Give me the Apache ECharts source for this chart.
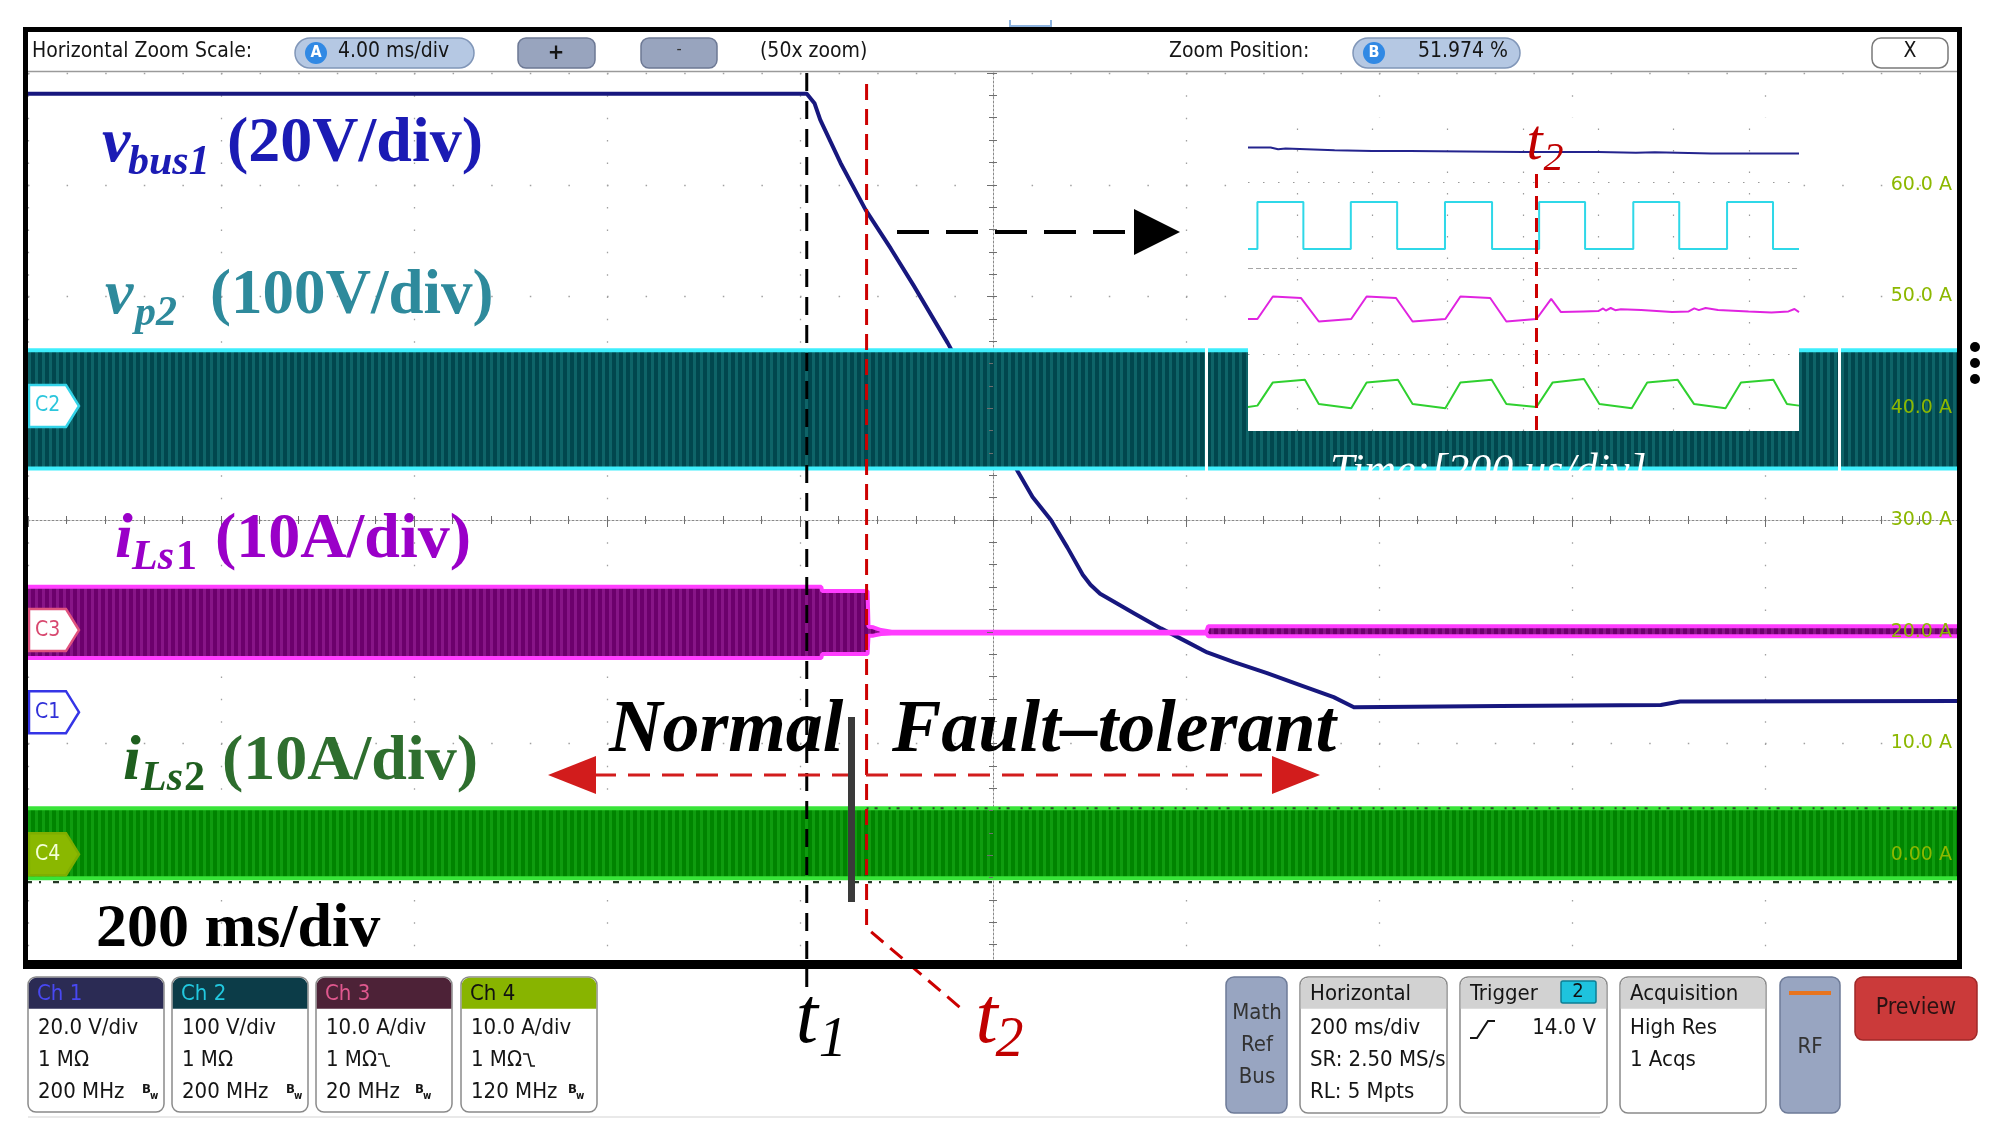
<!DOCTYPE html>
<html><head><meta charset="utf-8">
<script src="https://cdn.jsdelivr.net/npm/echarts@6/dist/echarts.min.js"></script>
<style>html,body{margin:0;padding:0;background:#fff;overflow:hidden}#c{width:1998px;height:1139px}</style>
</head><body><div id="c"></div>
<script>
// ================= DATA =================
// Main acquisition: time in ms (200 ms/div, 10 div), values in channel units
const C1_TIME_MS = [-1000, -193, -185, -179, -158, -132, -106, -82, -47, 26, 41, 60, 77, 93, 101, 111, 129, 146, 174, 202, 222, 249, 284, 319, 353, 374, 526, 692, 712, 1000];
const C1_VBUS1_V = [110.7, 110.7, 109.0, 106.0, 98.3, 89.9, 83.0, 76.3, 66.1, 43.0, 38.5, 34.4, 29.5, 24.6, 22.8, 21.2, 19.4, 17.7, 15.0, 12.5, 10.7, 9.0, 7.0, 4.8, 2.7, 0.9, 1.1, 1.3, 1.9, 2.0];

const C2_TIME_MS = [-1000, 1000];
const C2_VP2_UPPER_V = [50, 50];
const C2_VP2_LOWER_V = [-56, -56];

const C3_TIME_MS = [-1000, -178, -177, -130, -129, -124, -116, -105, 221, 223, 1000];
const C3_ILS1_UPPER_A = [3.87, 3.87, 3.49, 3.49, 0.30, 0.25, 0.00, -0.15, -0.15, 0.35, 0.35];
const C3_ILS1_LOWER_A = [-2.51, -2.51, -2.15, -2.15, -0.50, -0.50, -0.35, -0.30, -0.30, -0.55, -0.55];

const C4_TIME_MS = [-1000, 1000];
const C4_ILS2_UPPER_A = [4.1, 4.1];
const C4_ILS2_LOWER_A = [-2.15, -2.15];

const T1_MS = -193;   // fault instant
const T2_MS = -131;   // fault-tolerant reconfiguration

const C4_SCALE_TICKS = [-3, -2, -1, 0, 1, 2, 3];   // divisions carrying "x A" labels

// Inset (zoomed view, 200 us/div): time in us, values in inset divisions
const INSET_NAVY_T_US = [70, 130, 150, 170, 300, 400, 500, 800, 1000, 1100, 1150, 1300, 1533];
const INSET_NAVY_DIV = [1.40, 1.40, 1.38, 1.39, 1.37, 1.36, 1.36, 1.35, 1.35, 1.34, 1.345, 1.33, 1.33];

const INSET_CYAN_EDGE_T_US = [70, 95, 217, 343, 466, 593, 718, 843, 965, 1093, 1215, 1342, 1464, 1533];
const INSET_CYAN_LEVEL_DIV = [0.221, 0.767, 0.221, 0.767, 0.221, 0.767, 0.221, 0.767, 0.221, 0.767, 0.221, 0.767, 0.221, 0.221];

const INSET_MAG_T_US = [70, 95, 136, 211, 258, 344, 385, 463, 507, 594, 634, 713, 756, 836, 875, 901, 960, 1000, 1013, 1020, 1033, 1045, 1060, 1114, 1196, 1240, 1255, 1267, 1285, 1318, 1399, 1460, 1505, 1521, 1533];
const INSET_MAG_DIV = [-0.593, -0.593, -0.331, -0.349, -0.622, -0.593, -0.331, -0.349, -0.622, -0.593, -0.331, -0.349, -0.622, -0.593, -0.358, -0.512, -0.505, -0.500, -0.470, -0.495, -0.465, -0.490, -0.480, -0.488, -0.512, -0.505, -0.470, -0.490, -0.465, -0.488, -0.506, -0.517, -0.505, -0.477, -0.512];

const INSET_GRN_T_US = [70, 95, 136, 221, 258, 344, 385, 468, 507, 594, 634, 717, 756, 836, 879, 962, 1003, 1089, 1130, 1211, 1254, 1338, 1379, 1465, 1501, 1533];
const INSET_GRN_DIV = [-1.616, -1.60, -1.33, -1.30, -1.58, -1.63, -1.33, -1.30, -1.58, -1.63, -1.33, -1.30, -1.58, -1.616, -1.33, -1.29, -1.58, -1.63, -1.33, -1.30, -1.58, -1.63, -1.33, -1.30, -1.58, -1.60];

const INSET_T2_US = 836;
const INSET_GRID_T_US = [200, 400, 600, 800, 1000, 1200, 1400];
const INSET_GRID_ROWS_DIV = [1, -1];

// ================= channel vertical setup (scope position/scale) =================
const CH = {
  C1: {pos: -1.72, scale: 20},
  C2: {pos: 1.02, scale: 100},
  C3: {pos: -0.985, scale: 10},
  C4: {pos: -2.99, scale: 10}
};

const UI = '"DejaVu Sans Condensed","Liberation Sans Narrow","Roboto Condensed","Noto Sans",sans-serif';
const SERIF = '"Liberation Serif","DejaVu Serif",serif';

function stripes(bg, fg, period, w) {
  const c = document.createElement('canvas');
  c.width = period; c.height = 4;
  const g = c.getContext('2d');
  g.fillStyle = bg; g.fillRect(0, 0, period, 4);
  g.fillStyle = fg; g.fillRect(0, 0, w, 4);
  return {image: c, repeat: 'repeat'};
}

function toDiv(ch, v) { return ch.pos + v / ch.scale; }

// envelope band: filled polygon (custom series) + the two edge traces
function bandSeries(name, times, upper, lower, ch, edge, pattern, z) {
  const up = times.map((t, i) => [t, toDiv(ch, upper[i])]);
  const lo = times.map((t, i) => [t, toDiv(ch, lower[i])]);
  return [
    {type: 'custom', name: name + '_fill', xAxisIndex: 0, yAxisIndex: 0, z: z, silent: true, animation: false,
     data: times.map((t, i) => [t, up[i][1], lo[i][1]]),
     encode: {x: 0, y: [1, 2]},
     renderItem: function (params, api) {
       if (params.dataIndex !== 0) return null;
       const pts = up.map(p => api.coord(p)).concat(lo.slice().reverse().map(p => api.coord(p)));
       return {type: 'polygon', shape: {points: pts}, style: {fill: pattern, stroke: null}};
     }},
    {type: 'line', name: name + '_hi', xAxisIndex: 0, yAxisIndex: 0, z: z, symbol: 'none', silent: true, animation: false,
     data: up, lineStyle: {color: edge, width: 4}},
    {type: 'line', name: name + '_lo', xAxisIndex: 0, yAxisIndex: 0, z: z, symbol: 'none', silent: true, animation: false,
     data: lo, lineStyle: {color: edge, width: 4}}
  ];
}

const chart = echarts.init(document.getElementById('c'), null, {renderer: 'canvas', width: 1998, height: 1139});

const tickStyle = {color: '#6e6e6e', width: 1};
const option = {
  animation: false,
  backgroundColor: '#ffffff',
  grid: [
    {left: 28, top: 73, width: 1930, height: 894, show: false},
    {left: 28, top: 73, width: 1930, height: 894, show: false},
    {left: 1248, top: 118, width: 551, height: 313, show: false}
  ],
  xAxis: [
    {type: 'value', gridIndex: 0, min: -1000, max: 1000, interval: 200, position: 'bottom',
     axisLine: {show: false}, axisTick: {show: false}, axisLabel: {show: false},
     splitLine: {show: true, lineStyle: {color: '#a0a0a0', width: 1.3, type: [1.5, 20.85]}}},
    {type: 'value', gridIndex: 0, min: -1000, max: 1000, interval: 200, position: 'top',
     axisLine: {show: false}, axisLabel: {show: false}, splitLine: {show: false},
     axisTick: {show: true, inside: true, length: 7, lineStyle: tickStyle},
     minorTick: {show: true, splitNumber: 5, length: 4, lineStyle: tickStyle}},
    {type: 'value', gridIndex: 1, min: -1000, max: 1000, interval: 200, position: 'bottom',
     axisLine: {show: true, onZero: true, lineStyle: {color: '#8a8a8a', width: 1, type: [2, 2]}},
     axisLabel: {show: false}, splitLine: {show: false},
     axisTick: {show: true, inside: true, length: 4, lineStyle: tickStyle},
     minorTick: {show: true, splitNumber: 5, length: 4, lineStyle: tickStyle}},
    {type: 'value', gridIndex: 1, min: -1000, max: 1000, interval: 200, position: 'top',
     axisLine: {show: false, onZero: true}, axisLabel: {show: false}, splitLine: {show: false},
     axisTick: {show: true, inside: true, length: 4, lineStyle: tickStyle},
     minorTick: {show: true, splitNumber: 5, length: 4, lineStyle: tickStyle}},
    {type: 'value', gridIndex: 2, min: 70, max: 1533, show: false}
  ],
  yAxis: [
    {type: 'value', gridIndex: 0, min: -4, max: 4, interval: 1, position: 'left',
     axisLine: {show: false}, axisTick: {show: false}, axisLabel: {show: false},
     splitLine: {show: true, lineStyle: {color: '#a0a0a0', width: 1.3, type: [1.5, 37.1]}}},
    {type: 'value', gridIndex: 0, min: -4, max: 4, interval: 1, position: 'right', z: 20,
     axisLine: {show: false}, splitLine: {show: false},
     axisTick: {show: true, inside: true, length: 6, lineStyle: tickStyle},
     minorTick: {show: true, splitNumber: 5, length: 4, lineStyle: tickStyle},
     axisLabel: {show: true, inside: true, margin: 6, color: '#8cb800', fontSize: 19,
       fontFamily: '"DejaVu Sans","Noto Sans",sans-serif',
       formatter: function (v) {
         if (C4_SCALE_TICKS.indexOf(v) < 0) return '';
         const a = (v - CH.C4.pos) * CH.C4.scale;
         const r = Math.round(a);
         return (r === 0 ? '0.00' : r.toFixed(1)) + ' A';
       }}},
    {type: 'value', gridIndex: 1, min: -4, max: 4, interval: 1, position: 'left',
     axisLine: {show: true, onZero: true, lineStyle: {color: '#8a8a8a', width: 1, type: [2, 2]}},
     axisLabel: {show: false}, splitLine: {show: false},
     axisTick: {show: true, inside: true, length: 4, lineStyle: tickStyle},
     minorTick: {show: true, splitNumber: 5, length: 4, lineStyle: tickStyle}},
    {type: 'value', gridIndex: 1, min: -4, max: 4, interval: 1, position: 'right',
     axisLine: {show: false, onZero: true}, axisLabel: {show: false}, splitLine: {show: false},
     axisTick: {show: true, inside: true, length: 4, lineStyle: tickStyle},
     minorTick: {show: true, splitNumber: 5, length: 4, lineStyle: tickStyle}},
    {type: 'value', gridIndex: 2, min: -1.895, max: 1.744, show: false}
  ],
  series: []
};

// C1 (behind everything)
option.series.push({
  name: 'vbus1', type: 'line', xAxisIndex: 0, yAxisIndex: 0, symbol: 'none', silent: true, z: 2,
  data: C1_TIME_MS.map((t, i) => [t, toDiv(CH.C1, C1_VBUS1_V[i])]),
  lineStyle: {color: '#17177e', width: 4, join: 'round', cap: 'round'}
});
option.series.push(...bandSeries('vp2', C2_TIME_MS, C2_VP2_UPPER_V, C2_VP2_LOWER_V, CH.C2, '#3eeefc', stripes('#01474e', '#0e6468', 7, 3), 3));
option.series.push(...bandSeries('iLs1', C3_TIME_MS, C3_ILS1_UPPER_A, C3_ILS1_LOWER_A, CH.C3, '#ff3dff', stripes('#6c006c', '#871587', 7, 3), 4));
option.series.push(...bandSeries('iLs2', C4_TIME_MS, C4_ILS2_UPPER_A, C4_ILS2_LOWER_A, CH.C4, '#38e438', stripes('#008400', '#0f9c0f', 7, 3), 5));
// acquisition noise specks along iLs2 edges
option.series.push({
  name: 'iLs2_specks', type: 'line', xAxisIndex: 0, yAxisIndex: 0, symbol: 'none', silent: true, z: 6,
  data: C4_TIME_MS.map((t, i) => [t, toDiv(CH.C4, C4_ILS2_LOWER_A[i]) - 0.035]),
  lineStyle: {color: '#263826', width: 2.2, type: [4, 7, 2, 12, 6, 9]}
});
option.series.push({
  name: 'iLs2_specks_top', type: 'line', xAxisIndex: 0, yAxisIndex: 0, symbol: 'none', silent: true, z: 6,
  data: [[T2_MS, toDiv(CH.C4, C4_ILS2_UPPER_A[0])], [C4_TIME_MS[1], toDiv(CH.C4, C4_ILS2_UPPER_A[1])]],
  lineStyle: {color: '#2c4a2c', width: 2, type: [2, 6, 3, 11]}
});

// Inset traces
option.series.push({
  name: 'inset_vbus1', type: 'line', xAxisIndex: 4, yAxisIndex: 4, symbol: 'none', silent: true, z: 11,
  data: INSET_NAVY_T_US.map((t, i) => [t, INSET_NAVY_DIV[i]]),
  lineStyle: {color: '#24248e', width: 2},
  markLine: {silent: true, symbol: 'none', label: {show: false}, z: 10,
    data: INSET_GRID_T_US.map(t => ({xAxis: t, lineStyle: {color: '#9a9a9a', width: 1.2, type: [1.5, 20]}}))
      .concat(INSET_GRID_ROWS_DIV.map(d => ({yAxis: d, lineStyle: {color: '#9a9a9a', width: 1.2, type: [1.5, 13.5]}})))
      .concat([{yAxis: 0, lineStyle: {color: '#a6a6a6', width: 1.2, type: [5, 3]}}])}
});
option.series.push({
  name: 'inset_vp2', type: 'line', step: 'end', xAxisIndex: 4, yAxisIndex: 4, symbol: 'none', silent: true, z: 11,
  data: INSET_CYAN_EDGE_T_US.map((t, i) => [t, INSET_CYAN_LEVEL_DIV[i]]),
  lineStyle: {color: '#2fd8e8', width: 2}
});
option.series.push({
  name: 'inset_iLs1', type: 'line', xAxisIndex: 4, yAxisIndex: 4, symbol: 'none', silent: true, z: 11,
  data: INSET_MAG_T_US.map((t, i) => [t, INSET_MAG_DIV[i]]),
  lineStyle: {color: '#e024e0', width: 2}
});
option.series.push({
  name: 'inset_iLs2', type: 'line', xAxisIndex: 4, yAxisIndex: 4, symbol: 'none', silent: true, z: 11,
  data: INSET_GRN_T_US.map((t, i) => [t, INSET_GRN_DIV[i]]),
  lineStyle: {color: '#2fd02f', width: 2}
});

chart.setOption(option);

// ================= overlays =================
const px = t => chart.convertToPixel({xAxisIndex: 0}, t);
const py = d => chart.convertToPixel({yAxisIndex: 0}, d);
const ipx = t => chart.convertToPixel({xAxisIndex: 4}, t);
const ipy = d => chart.convertToPixel({yAxisIndex: 4}, d);

const G = [];
function rect(x, y, w, h, fill, stroke, r, z, lw) {
  G.push({type: 'rect', z: z, silent: true, shape: {x, y, width: w, height: h, r: r || 0},
    style: {fill: fill, stroke: stroke || null, lineWidth: lw || (stroke ? 1.5 : 0)}});
}
function pline(points, color, width, dash, z) {
  G.push({type: 'polyline', z: z, silent: true, shape: {points},
    style: {stroke: color, lineWidth: width, lineDash: dash || null, fill: null}});
}
function poly(points, fill, z, stroke, lw) {
  G.push({type: 'polygon', z: z, silent: true, shape: {points}, style: {fill, stroke: stroke || null, lineWidth: lw || 0}});
}
function circ(cx, cy, r, fill, z) {
  G.push({type: 'circle', z: z, silent: true, shape: {cx, cy, r}, style: {fill}});
}
function txt(x, y, s, font, color, align, z) {
  G.push({type: 'text', z: z || 40, silent: true, x: x, y: y,
    style: {text: s, font: font, fill: color, textAlign: align || 'left', align: align || 'left',
      textVerticalAlign: 'middle', verticalAlign: 'middle'}});
}
function tb(x, base, s, size, style, color, fam, z) {
  txt(x, base - 0.34 * size, s, style + ' ' + size + 'px ' + (fam || SERIF), color, 'left', z || 25);
}
function ui(x, yc, s, size, color, align, weight, z) {
  txt(x, yc, s, (weight || 'normal') + ' ' + size + 'px ' + UI, color || '#151515', align, z || 40);
}

// inset background
const ix0 = ipx(70), ix1 = ipx(1533), iy0 = ipy(1.744), iy1 = ipy(-1.895);
rect(ix0, iy0, ix1 - ix0, iy1 - iy0, '#ffffff', null, 0, 8);
// gaps in the vp2 band beside the inset
const c2top = py(toDiv(CH.C2, C2_VP2_UPPER_V[0])) - 3, c2bot = py(toDiv(CH.C2, C2_VP2_LOWER_V[0])) + 3;
rect(1205, c2top, 3, c2bot - c2top, '#ffffff', null, 0, 7);
rect(1838, c2top, 3, c2bot - c2top, '#ffffff', null, 0, 7);
// inset t2
const it2 = ipx(INSET_T2_US);
pline([[it2, 174], [it2, iy1]], '#cc0000', 3, [14, 8], 20);
tb(it2 - 10, 163, 't', 58, 'italic', '#c00000');
tb(it2 + 7, 173, '2', 40, 'italic', '#c00000');
tb(1330, 487, 'Time:[200 us/div]', 44, 'italic', '#ffffff', SERIF, 21);

// t1 / t2 markers
const x1 = px(T1_MS), x2 = px(T2_MS);
pline([[x1, 73], [x1, 992]], '#000000', 3, [18, 10], 22);
pline([[x2, 84], [x2, 928], [x2 + 94, 1008]], '#cc0000', 3, [16, 9], 22);
tb(x1 - 11, 1048, 't', 80, 'italic', '#000000', SERIF, 45);
tb(x1 + 12, 1060, '1', 56, 'italic', '#000000', SERIF, 45);
tb(x2 + 109, 1048, 't', 80, 'italic', '#c00000', SERIF, 45);
tb(x2 + 129, 1060, '2', 56, 'italic', '#c00000', SERIF, 45);

// black dashed arrow to inset
pline([[897, 232], [1140, 232]], '#000000', 4, [32, 17], 22);
poly([[1134, 209], [1180, 232], [1134, 255]], '#000000', 22);

// red double arrow
pline([[594, 775], [1274, 775]], '#d21c1c', 3, [22, 12], 22);
poly([[548, 775], [596, 756], [596, 794]], '#d21c1c', 22);
poly([[1320, 775], [1272, 756], [1272, 794]], '#d21c1c', 22);
rect(848, 717, 7, 185, '#3a3a3a', null, 0, 22);

// signal labels
tb(102, 166, 'v', 64, 'italic bold', '#1b1bb4');
tb(128, 177, 'bus1', 42, 'italic bold', '#1b1bb4');
tb(227, 166, '(20V/div)', 64, 'bold', '#1b1bb4');
tb(105, 318, 'v', 64, 'italic bold', '#2e8a9c');
tb(135, 328, 'p2', 42, 'italic bold', '#2e8a9c');
tb(210, 318, '(100V/div)', 63, 'bold', '#2e8a9c');
tb(115, 562, 'i', 64, 'italic bold', '#9a00c8');
tb(132, 572, 'Ls', 42, 'italic bold', '#9a00c8');
tb(176, 572, '1', 42, 'bold', '#9a00c8');
tb(215, 562, '(10A/div)', 64, 'bold', '#9a00c8');
tb(123, 784, 'i', 64, 'italic bold', '#1f5f1f');
tb(141, 793, 'Ls', 42, 'italic bold', '#1f5f1f');
tb(184, 793, '2', 42, 'bold', '#1f5f1f');
tb(222, 784, '(10A/div)', 64, 'bold', '#2e6e2e');
tb(609, 757, 'Normal', 74, 'italic bold', '#000000');
tb(892, 757, 'Fault\u2013tolerant', 74, 'italic bold', '#000000');
tb(96, 951, '200 ms/div', 62, 'bold', '#000000');

// channel ground markers
function marker(name, pos, stroke, fill, tcolor) {
  const yc = py(pos), x0 = 29;
  poly([[x0, yc - 21], [x0 + 37, yc - 21], [x0 + 50, yc], [x0 + 37, yc + 21], [x0, yc + 21]], fill, 28, stroke, 2.5);
  ui(x0 + 6, yc, name, 21, tcolor, 'left', 'normal', 29);
}
marker('C2', CH.C2.pos, '#33d3e8', '#ffffff', '#2cc6dc');
marker('C3', CH.C3.pos, '#e0527e', '#ffffff', '#d8486f');
marker('C1', CH.C1.pos, '#3535e6', '#ffffff', '#3030d8');
marker('C4', CH.C4.pos, '#7fae00', '#8ab800', '#f4ffd8');

// screen frame + header
rect(28, 32, 1930, 40, '#ffffff', null, 0, 30);
pline([[28, 71.5], [1958, 71.5]], '#9a9a9a', 1.5, null, 31);
rect(23, 27, 1939, 5, '#000000', null, 0, 32);
rect(23, 27, 5, 942, '#000000', null, 0, 32);
rect(1957, 27, 5, 942, '#000000', null, 0, 32);
rect(23, 960, 1939, 9, '#000000', null, 0, 32);
pline([[1010, 20], [1010, 26], [1051, 26], [1051, 20]], '#8db3df', 2, null, 33);

ui(32, 52, 'Horizontal Zoom Scale:', 21, '#151515');
rect(295, 38, 179, 30, '#b5c8e3', '#8096b8', 15, 33);
circ(316, 53, 11, '#3189e4', 34);
ui(316, 53, 'A', 16, '#ffffff', 'center', 'bold', 35);
ui(338, 52, '4.00 ms/div', 21, '#151515');
rect(518, 38, 77, 30, '#98a4be', '#6c7894', 8, 33);
ui(556, 53, '+', 22, '#151515', 'center', 'bold');
rect(641, 38, 76, 30, '#98a4be', '#6c7894', 8, 33);
ui(679, 50, '-', 16, '#333333', 'center');
ui(760, 52, '(50x zoom)', 21, '#151515');
ui(1169, 52, 'Zoom Position:', 21, '#151515');
rect(1353, 38, 167, 30, '#b5c8e3', '#8096b8', 15, 33);
circ(1374, 53, 11, '#3189e4', 34);
ui(1374, 53, 'B', 16, '#ffffff', 'center', 'bold', 35);
ui(1418, 52, '51.974 %', 21, '#151515');
rect(1872, 38, 76, 30, '#ffffff', '#7a7a7a', 9, 33);
ui(1910, 52, 'X', 21, '#151515', 'center');

// side handle dots
circ(1975, 347, 5, '#000000', 33);
circ(1975, 363, 5, '#000000', 33);
circ(1975, 379, 5, '#000000', 33);

// bottom status badges
pline([[28, 1117], [1600, 1117]], '#e2e2e2', 1.5, null, 30);
function chBox(x, hdr, hdrText, hdrColor, lines, bwOff, filt) {
  rect(x, 977, 136, 135, '#ffffff', '#8a8a8a', 8, 33);
  G.push({type: 'rect', z: 34, silent: true, shape: {x: x + 0.75, y: 977.75, width: 134.5, height: 31, r: [8, 8, 0, 0]}, style: {fill: hdr}});
  ui(x + 9, 994, hdrText, 22, hdrColor, 'left', 'normal', 35);
  ui(x + 10, 1028, lines[0], 22);
  ui(x + 10, 1060, lines[1], 22);
  ui(x + 10, 1092, lines[2], 22);
  ui(x + bwOff, 1090, 'B', 13, '#151515', 'left', 'bold');
  ui(x + bwOff + 8, 1096, 'w', 10, '#151515', 'left', 'bold');
  if (filt) pline([[x + 62, 1054], [x + 67, 1054], [x + 70, 1066], [x + 74, 1066]], '#151515', 1.6, null, 40);
}
chBox(28, '#2b2b54', 'Ch 1', '#4848f2', ['20.0 V/div', '1 M\u03a9', '200 MHz'], 114, false);
chBox(172, '#0c3c48', 'Ch 2', '#22c8df', ['100 V/div', '1 M\u03a9', '200 MHz'], 114, false);
chBox(316, '#4d2237', 'Ch 3', '#e0588e', ['10.0 A/div', '1 M\u03a9', '20 MHz'], 99, true);
chBox(461, '#88b400', 'Ch 4', '#111111', ['10.0 A/div', '1 M\u03a9', '120 MHz'], 107, true);

rect(1226, 977, 61, 136, '#98a5c1', '#6e7b98', 8, 33);
ui(1257, 1013, 'Math', 22, '#333333', 'center');
ui(1257, 1045, 'Ref', 22, '#333333', 'center');
ui(1257, 1077, 'Bus', 22, '#333333', 'center');
function infoBox(x, w, title, lines) {
  rect(x, 977, w, 136, '#ffffff', '#8a8a8a', 8, 33);
  G.push({type: 'rect', z: 34, silent: true, shape: {x: x + 0.75, y: 977.75, width: w - 1.5, height: 31, r: [8, 8, 0, 0]}, style: {fill: '#d2d2d2'}});
  ui(x + 10, 994, title, 22);
  lines.forEach((s, i) => ui(x + 10, 1028 + 32 * i, s, 22));
}
infoBox(1300, 147, 'Horizontal', ['200 ms/div', 'SR: 2.50 MS/s', 'RL: 5 Mpts']);
infoBox(1460, 147, 'Trigger', []);
rect(1561, 981, 35, 22, '#1ec3de', '#0c7f95', 2, 36);
ui(1578, 992, '2', 20, '#111111', 'center', 'normal', 37);
pline([[1470, 1038], [1477, 1038], [1488, 1021], [1495, 1021]], '#151515', 2, null, 40);
ui(1596, 1028, '14.0 V', 22, '#151515', 'right');
infoBox(1620, 146, 'Acquisition', ['High Res', '1 Acqs']);
rect(1780, 977, 60, 136, '#98a5c1', '#6e7b98', 8, 33);
rect(1789, 991, 42, 4, '#e8741e', null, 0, 34);
ui(1810, 1047, 'RF', 22, '#333333', 'center');
rect(1855, 977, 122, 63, '#cb3a3a', '#a02828', 8, 33);
ui(1916, 1008, 'Preview', 23, '#2a1212', 'center', 'normal');

chart.setOption({graphic: {elements: G}});
</script>
</body></html>
